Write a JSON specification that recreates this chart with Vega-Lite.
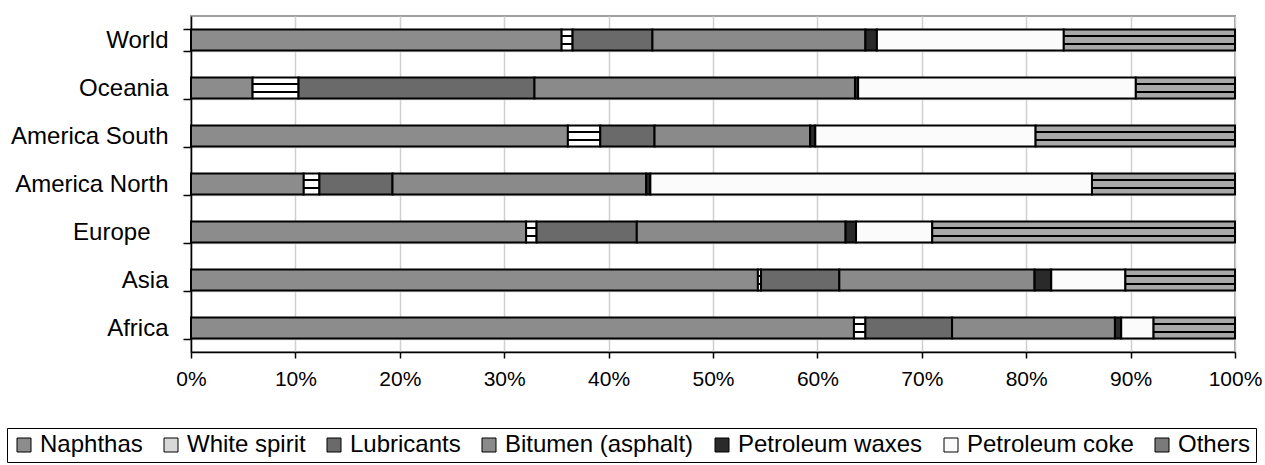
{
  "$schema": "https://vega.github.io/schema/vega-lite/v6.json",
  "width": 1044,
  "height": 336,
  "autosize": {"type": "none"},
  "padding": {"left": 191, "top": 16, "right": 30, "bottom": 113},
  "background": "white",
  "config": {
    "view": {"stroke": "#a0a0a0", "strokeWidth": 2},
    "font": "Liberation Sans"
  },
  "data": {
    "values": [
      {"region": "World", "product": "Naphthas", "ord": 1, "value": 35.5},
      {"region": "World", "product": "White spirit", "ord": 2, "value": 1.05},
      {"region": "World", "product": "Lubricants", "ord": 3, "value": 7.65},
      {"region": "World", "product": "Bitumen (asphalt)", "ord": 4, "value": 20.4},
      {"region": "World", "product": "Petroleum waxes", "ord": 5, "value": 1.1},
      {"region": "World", "product": "Petroleum coke", "ord": 6, "value": 17.9},
      {"region": "World", "product": "Others", "ord": 7, "value": 16.4},
      {"region": "Oceania", "product": "Naphthas", "ord": 1, "value": 5.9},
      {"region": "Oceania", "product": "White spirit", "ord": 2, "value": 4.4},
      {"region": "Oceania", "product": "Lubricants", "ord": 3, "value": 22.6},
      {"region": "Oceania", "product": "Bitumen (asphalt)", "ord": 4, "value": 30.7},
      {"region": "Oceania", "product": "Petroleum waxes", "ord": 5, "value": 0.3},
      {"region": "Oceania", "product": "Petroleum coke", "ord": 6, "value": 26.6},
      {"region": "Oceania", "product": "Others", "ord": 7, "value": 9.5},
      {"region": "America South", "product": "Naphthas", "ord": 1, "value": 36.1},
      {"region": "America South", "product": "White spirit", "ord": 2, "value": 3.1},
      {"region": "America South", "product": "Lubricants", "ord": 3, "value": 5.2},
      {"region": "America South", "product": "Bitumen (asphalt)", "ord": 4, "value": 14.9},
      {"region": "America South", "product": "Petroleum waxes", "ord": 5, "value": 0.5},
      {"region": "America South", "product": "Petroleum coke", "ord": 6, "value": 21.1},
      {"region": "America South", "product": "Others", "ord": 7, "value": 19.1},
      {"region": "America North", "product": "Naphthas", "ord": 1, "value": 10.8},
      {"region": "America North", "product": "White spirit", "ord": 2, "value": 1.5},
      {"region": "America North", "product": "Lubricants", "ord": 3, "value": 7.0},
      {"region": "America North", "product": "Bitumen (asphalt)", "ord": 4, "value": 24.3},
      {"region": "America North", "product": "Petroleum waxes", "ord": 5, "value": 0.4},
      {"region": "America North", "product": "Petroleum coke", "ord": 6, "value": 42.3},
      {"region": "America North", "product": "Others", "ord": 7, "value": 13.7},
      {"region": "Europe", "product": "Naphthas", "ord": 1, "value": 32.1},
      {"region": "Europe", "product": "White spirit", "ord": 2, "value": 1.0},
      {"region": "Europe", "product": "Lubricants", "ord": 3, "value": 9.6},
      {"region": "Europe", "product": "Bitumen (asphalt)", "ord": 4, "value": 20.0},
      {"region": "Europe", "product": "Petroleum waxes", "ord": 5, "value": 1.0},
      {"region": "Europe", "product": "Petroleum coke", "ord": 6, "value": 7.3},
      {"region": "Europe", "product": "Others", "ord": 7, "value": 29.0},
      {"region": "Asia", "product": "Naphthas", "ord": 1, "value": 54.3},
      {"region": "Asia", "product": "White spirit", "ord": 2, "value": 0.3},
      {"region": "Asia", "product": "Lubricants", "ord": 3, "value": 7.5},
      {"region": "Asia", "product": "Bitumen (asphalt)", "ord": 4, "value": 18.7},
      {"region": "Asia", "product": "Petroleum waxes", "ord": 5, "value": 1.6},
      {"region": "Asia", "product": "Petroleum coke", "ord": 6, "value": 7.1},
      {"region": "Asia", "product": "Others", "ord": 7, "value": 10.5},
      {"region": "Africa", "product": "Naphthas", "ord": 1, "value": 63.5},
      {"region": "Africa", "product": "White spirit", "ord": 2, "value": 1.1},
      {"region": "Africa", "product": "Lubricants", "ord": 3, "value": 8.3},
      {"region": "Africa", "product": "Bitumen (asphalt)", "ord": 4, "value": 15.6},
      {"region": "Africa", "product": "Petroleum waxes", "ord": 5, "value": 0.6},
      {"region": "Africa", "product": "Petroleum coke", "ord": 6, "value": 3.1},
      {"region": "Africa", "product": "Others", "ord": 7, "value": 7.8}
    ]
  },
  "mark": {"type": "bar", "stroke": "black", "strokeWidth": 2, "strokeJoin": "miter"},
  "encoding": {
    "y": {
      "field": "region",
      "type": "nominal",
      "sort": ["World", "Oceania", "America South", "America North", "Europe", "Asia", "Africa"],
      "scale": {"paddingInner": 0.56, "paddingOuter": 0.28},
      "axis": {
        "title": null,
        "labelFont": "Liberation Sans",
        "labelFontSize": 24,
        "labelColor": "black",
        "labelPadding": 15,
        "labelExpr": "datum.value == 'Europe' ? 'Europe\u2800' : datum.value",
        "domainColor": "black",
        "domainWidth": 1.5,
        "tickColor": "black",
        "tickWidth": 1.5,
        "tickSize": 8,
        "tickBand": "extent",
        "grid": true,
        "gridColor": "#d9d9d9",
        "gridWidth": 1.5
      }
    },
    "x": {
      "field": "value",
      "type": "quantitative",
      "stack": "normalize",
      "scale": {"domain": [0, 1], "nice": false},
      "axis": {
        "title": null,
        "format": ".0%",
        "values": [0, 0.1, 0.2, 0.3, 0.4, 0.5, 0.6, 0.7, 0.8, 0.9, 1],
        "labelFont": "Liberation Sans",
        "labelFontSize": 21,
        "labelColor": "black",
        "labelPadding": 10,
        "labelFlush": false,
        "domainColor": "black",
        "domainWidth": 1.5,
        "tickColor": "black",
        "tickWidth": 1.5,
        "tickSize": 6,
        "grid": true,
        "gridColor": "#d0d0d0",
        "gridWidth": 1.5
      }
    },
    "order": {"field": "ord", "type": "quantitative"},
    "fill": {
      "field": "product",
      "type": "nominal",
      "condition": [
        {"test": "datum.product === 'White spirit'", "value": {"gradient": "linear", "x1": 0, "y1": 0, "x2": 0, "y2": 1, "stops": [
            {"offset": 0, "color": "white"}, {"offset": 0.27, "color": "white"},
            {"offset": 0.27, "color": "black"}, {"offset": 0.37, "color": "black"},
            {"offset": 0.37, "color": "white"}, {"offset": 0.63, "color": "white"},
            {"offset": 0.63, "color": "black"}, {"offset": 0.73, "color": "black"},
            {"offset": 0.73, "color": "white"}, {"offset": 1, "color": "white"}]}},
        {"test": "datum.product === 'Others'", "value": {"gradient": "linear", "x1": 0, "y1": 0, "x2": 0, "y2": 1, "stops": [
            {"offset": 0, "color": "#a8a8a8"}, {"offset": 0.28, "color": "#a8a8a8"},
            {"offset": 0.28, "color": "black"}, {"offset": 0.38, "color": "black"},
            {"offset": 0.38, "color": "#a8a8a8"}, {"offset": 0.62, "color": "#a8a8a8"},
            {"offset": 0.62, "color": "black"}, {"offset": 0.72, "color": "black"},
            {"offset": 0.72, "color": "#a8a8a8"}, {"offset": 1, "color": "#a8a8a8"}]}}
      ],
      "scale": {
        "domain": ["Naphthas", "White spirit", "Lubricants", "Bitumen (asphalt)", "Petroleum waxes", "Petroleum coke", "Others"],
        "range": ["#8c8c8c", "#d8d8d8", "#6a6a6a", "#8a8a8a", "#2a2a2a", "#fbfbfb", "#7a7a7a"]
      },
      "legend": {
        "title": null,
        "orient": "none",
        "legendX": -184,
        "legendY": 412,
        "direction": "horizontal",
        "columns": 7,
        "strokeColor": "black",
        "padding": 5,
        "symbolType": "square",
        "symbolSize": 196,
        "symbolStrokeColor": "black",
        "symbolStrokeWidth": 1,
        "symbolOpacity": 1,
        "labelFont": "Liberation Sans",
        "labelFontSize": 24,
        "labelColor": "black",
        "labelLimit": 400,
        "labelOffset": 4,
        "columnPadding": 16
      }
    }
  }
}
